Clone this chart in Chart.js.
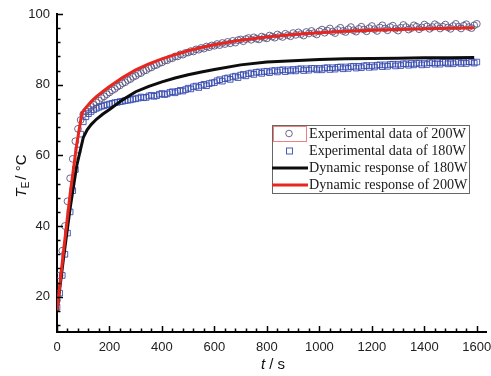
<!DOCTYPE html>
<html>
<head>
<meta charset="utf-8">
<script src="https://cdn.jsdelivr.net/npm/chart.js@4"></script>
<style>
  html, body { margin: 0; padding: 0; background: #fff; }
  #wrap { position: relative; width: 491px; height: 376px; }
</style>
</head>
<body>
<div id="wrap"><canvas id="chart"></canvas></div>
<script>
// sample times of the measurements (s)
const expTime = [
  0, 10, 20, 30, 40, 50, 60, 70, 80, 90,
  100, 110, 120, 130, 140, 150, 160, 170, 180, 190,
  200, 210, 220, 230, 240, 250, 260, 270, 280, 290,
  300, 310, 320, 330, 340, 350, 360, 370, 380, 390,
  400, 410, 420, 430, 440, 450, 460, 470, 480, 490,
  500, 510, 520, 530, 540, 550, 560, 570, 580, 590,
  600, 610, 620, 630, 640, 650, 660, 670, 680, 690,
  700, 710, 720, 730, 740, 750, 760, 770, 780, 790,
  800, 810, 820, 830, 840, 850, 860, 870, 880, 890,
  900, 910, 920, 930, 940, 950, 960, 970, 980, 990,
  1000, 1010, 1020, 1030, 1040, 1050, 1060, 1070, 1080, 1090,
  1100, 1110, 1120, 1130, 1140, 1150, 1160, 1170, 1180, 1190,
  1200, 1210, 1220, 1230, 1240, 1250, 1260, 1270, 1280, 1290,
  1300, 1310, 1320, 1330, 1340, 1350, 1360, 1370, 1380, 1390,
  1400, 1410, 1420, 1430, 1440, 1450, 1460, 1470, 1480, 1490,
  1500, 1510, 1520, 1530, 1540, 1550, 1560, 1570, 1580, 1590,
  1600];

// measured T_E at 200 W (°C)
const exp200 = [
  19, 26, 33, 40, 47, 53.5, 59, 64, 67.5, 70,
  71.6, 72.4, 73.0, 73.7, 74.3, 75.0, 75.5, 76.2, 76.7, 77.3,
  77.8, 78.4, 78.8, 79.4, 79.8, 80.4, 80.7, 81.3, 81.6, 82.2,
  82.5, 83.1, 83.3, 83.9, 84.1, 84.7, 84.9, 85.4, 85.6, 86.1,
  86.3, 86.8, 86.9, 87.4, 87.5, 88.0, 88.0, 88.6, 88.5, 89.0,
  89.1, 89.5, 89.4, 90.0, 89.9, 90.4, 90.2, 90.8, 90.6, 91.1,
  91.0, 91.5, 91.2, 91.8, 91.5, 92.1, 91.7, 92.4, 91.9, 92.6,
  92.8, 92.3, 92.9, 93.2, 92.7, 93.4, 93.0, 92.8, 93.6, 93.3,
  93.1, 93.9, 93.6, 93.3, 94.2, 93.8, 93.5, 94.4, 94.0, 93.7,
  94.6, 94.1, 94.8, 94.3, 93.9, 94.9, 94.5, 95.2, 94.6, 94.2,
  95.1, 95.6, 94.7, 95.3, 95.9, 95.0, 94.6, 95.5, 96.1, 95.2,
  94.9, 95.7, 96.3, 95.4, 95.0, 95.8, 96.4, 95.6, 95.1, 96.0,
  96.6, 95.7, 95.2, 96.2, 96.8, 95.9, 95.4, 96.3, 96.7, 95.8,
  95.3, 96.1, 96.9, 96.3, 95.6, 96.0, 96.8, 96.4, 95.7, 96.2,
  97.0, 96.5, 95.8, 96.3, 97.1, 96.6, 95.9, 96.4, 97.0, 96.2,
  95.8, 96.6, 97.2, 96.4, 95.9, 96.7, 97.1, 96.3, 96.0, 96.8,
  97.2];

// measured T_E at 180 W (°C)
const exp180 = [
  17, 21, 26, 32, 38, 44, 50, 56, 61.5, 66,
  69.5, 70.9, 71.8, 72.4, 72.9, 73.3, 73.6, 73.9, 74.1, 74.3,
  74.5, 74.7, 74.9, 75.0, 75.2, 75.3, 75.5, 75.6, 75.7, 75.9,
  76.0, 76.2, 76.5, 76.3, 76.4, 76.8, 77.0, 76.7, 76.9, 77.3,
  77.5, 77.2, 77.4, 77.8, 78.0, 77.7, 78.1, 78.4, 78.2, 78.6,
  79.0, 78.8, 79.4, 79.6, 79.2, 79.8, 80.1, 79.7, 80.3, 80.5,
  80.6, 81.1, 81.4, 81.0, 81.7, 81.9, 81.5, 82.2, 82.4, 82.0,
  82.7, 82.9, 82.5, 83.1, 83.3, 82.9, 83.5, 83.6, 83.2, 83.7,
  83.8, 83.4, 83.9, 84.0, 83.6, 84.1, 84.2, 83.7, 84.2, 83.9,
  84.3, 83.9, 84.4, 84.5, 84.0, 84.5, 84.1, 84.6, 84.6, 84.2,
  84.6, 84.2, 84.7, 84.8, 84.3, 84.8, 84.4, 84.9, 85.0, 84.5,
  85.0, 84.6, 85.1, 85.2, 84.7, 85.2, 84.8, 85.3, 85.4, 84.9,
  85.4, 85.0, 85.5, 85.6, 85.1, 85.6, 85.2, 85.7, 85.8, 85.3,
  85.8, 85.4, 85.9, 85.9, 85.5, 86.0, 85.6, 86.0, 86.1, 85.6,
  86.1, 85.7, 86.2, 86.2, 85.8, 86.2, 85.8, 86.3, 86.3, 85.9,
  86.3, 85.9, 86.4, 86.4, 86.0, 86.4, 86.0, 86.5, 86.4, 86.1,
  86.4];

// model curves
const resp200Time = [0, 25, 50, 75, 95, 110, 130, 150, 175, 200, 250, 300, 350, 400, 450, 500,
  550, 600, 700, 800, 900, 1000, 1100, 1200, 1300, 1400, 1500, 1590];
const resp200 = [16, 33, 49, 63, 72, 73.5, 75.2, 76.6, 78.1, 79.5, 82.0, 84.2, 85.9, 87.3, 88.5, 89.6,
  90.5, 91.3, 92.6, 93.5, 94.2, 94.7, 95.1, 95.4, 95.6, 95.8, 96.0, 96.1];
const resp180Time = [0, 25, 50, 75, 100, 115, 130, 150, 175, 200, 250, 300, 350, 400, 450, 500,
  550, 600, 700, 800, 900, 1000, 1100, 1200, 1300, 1400, 1500, 1590];
const resp180 = [16, 31, 45, 57, 65, 67.2, 68.7, 70.2, 71.7, 73.0, 75.7, 78.0, 79.5, 80.8, 81.9, 82.8,
  83.6, 84.3, 85.6, 86.4, 86.8, 87.1, 87.3, 87.4, 87.5, 87.6, 87.6, 87.7];

const xTicks = [0, 200, 400, 600, 800, 1000, 1200, 1400, 1600];
const yTicks = [20, 40, 60, 80, 100];
const legendLabels = ['Experimental data of 200W', 'Experimental data of 180W',
  'Dynamic response of 180W', 'Dynamic response of 200W'];

const CIRCLE = 'rgba(90, 85, 130, 0.9)';
const SQUARE = 'rgba(55, 75, 175, 0.9)';
const RED = '#e8261e';
const BLACK = '#0d0d0d';

function pairs(xs, ys) {
  return xs.map((x, i) => ({ x: x, y: ys[i] }));
}

// inward tick marks, axis titles and the boxed legend
const decorations = {
  id: 'decorations',
  afterDraw(chart) {
    const ctx = chart.ctx;
    const x = chart.scales.x;
    const y = chart.scales.y;
    const area = chart.chartArea;
    ctx.save();
    ctx.strokeStyle = '#000';
    ctx.lineWidth = 1.5;
    ctx.beginPath();
    for (let v = 0; v <= x.max; v += 40) {
      const px = Math.round(x.getPixelForValue(v)) + 0.5;
      const len = v % 200 === 0 ? 6 : 3.5;
      ctx.moveTo(px, area.bottom);
      ctx.lineTo(px, area.bottom - len);
    }
    for (let v = 12; v <= y.max; v += 4) {
      const py = Math.round(y.getPixelForValue(v)) + 0.5;
      const len = v % 20 === 0 ? 6 : 3.5;
      ctx.moveTo(area.left, py);
      ctx.lineTo(area.left + len, py);
    }
    ctx.stroke();

    // y title: T_E / °C
    ctx.fillStyle = '#111';
    ctx.textBaseline = 'alphabetic';
    ctx.translate(26, 176);
    ctx.rotate(-Math.PI / 2);
    const big = '15px "Liberation Sans", Arial, sans-serif';
    const bigIt = 'italic 15px "Liberation Sans", Arial, sans-serif';
    const small = '10px "Liberation Sans", Arial, sans-serif';
    ctx.font = bigIt; const wT = ctx.measureText('T').width;
    ctx.font = small; const wE = ctx.measureText('E').width;
    ctx.font = big; const wR = ctx.measureText('/ °C').width;
    let cx = -(wT + wE + 2 + wR) / 2;
    ctx.font = bigIt; ctx.fillText('T', cx, 0); cx += wT;
    ctx.font = small; ctx.fillText('E', cx, 3); cx += wE + 2;
    ctx.font = big; ctx.fillText('/ °C', cx, 0);
    ctx.setTransform(1, 0, 0, 1, 0, 0);

    // x title: t / s
    ctx.font = bigIt; const wt = ctx.measureText('t').width;
    ctx.font = big; const ws = ctx.measureText(' / s').width;
    const tx = 273 - (wt + ws) / 2;
    ctx.font = bigIt; ctx.fillText('t', tx, 369);
    ctx.font = big; ctx.fillText(' / s', tx + wt, 369);

    // legend
    const lx = 272, ly = 125, lw = 197, lh = 68;
    ctx.fillStyle = '#fff';
    ctx.fillRect(lx, ly, lw, lh);
    ctx.strokeStyle = '#666';
    ctx.lineWidth = 1;
    ctx.strokeRect(lx + 0.5, ly + 0.5, lw, lh);
    ctx.strokeStyle = '#f08080';
    ctx.strokeRect(lx + 1.5, ly + 1.5, 33, 15);

    const rows = [133.5, 151, 168, 185];
    ctx.font = '100px "Liberation Serif", "Times New Roman", serif';
    const fs = 100 * 157 / ctx.measureText(legendLabels[0]).width;
    ctx.font = fs.toFixed(2) + 'px "Liberation Serif", "Times New Roman", serif';
    ctx.fillStyle = '#1a1a1a';
    ctx.textBaseline = 'middle';
    legendLabels.forEach((lab, i) => ctx.fillText(lab, 309, rows[i] + 0.5));

    ctx.lineWidth = 1;
    ctx.strokeStyle = CIRCLE;
    ctx.beginPath();
    ctx.arc(289, rows[0], 3.3, 0, Math.PI * 2);
    ctx.stroke();
    ctx.strokeStyle = SQUARE;
    ctx.strokeRect(286.5, rows[1] - 3, 6, 6);
    ctx.lineWidth = 3;
    ctx.strokeStyle = BLACK;
    ctx.beginPath(); ctx.moveTo(272, rows[2]); ctx.lineTo(308, rows[2]); ctx.stroke();
    ctx.strokeStyle = RED;
    ctx.beginPath(); ctx.moveTo(272, rows[3]); ctx.lineTo(308, rows[3]); ctx.stroke();
    ctx.restore();
  }
};

const tickFont = { family: '"Liberation Sans", Arial, sans-serif', size: 13 };

new Chart(document.getElementById('chart'), {
  type: 'scatter',
  data: {
    datasets: [
      {
        label: legendLabels[3],
        data: pairs(resp200Time, resp200),
        showLine: true,
        borderColor: RED,
        borderWidth: 3,
        pointRadius: 0,
        tension: 0,
        order: 0,
      },
      {
        label: legendLabels[2],
        data: pairs(resp180Time, resp180),
        showLine: true,
        borderColor: BLACK,
        borderWidth: 3,
        pointRadius: 0,
        tension: 0,
        order: 1,
      },
      {
        label: legendLabels[0],
        data: pairs(expTime, exp200),
        pointStyle: 'circle',
        pointRadius: 3.4,
        borderWidth: 1,
        borderColor: CIRCLE,
        backgroundColor: 'rgba(0,0,0,0)',
        order: 2,
      },
      {
        label: legendLabels[1],
        data: pairs(expTime, exp180),
        pointStyle: 'rect',
        pointRadius: 4,
        borderWidth: 1,
        borderColor: SQUARE,
        backgroundColor: 'rgba(0,0,0,0)',
        order: 3,
      },
    ],
  },
  options: {
    responsive: true,
    maintainAspectRatio: false,
    animation: false,
    events: [],
    layout: { padding: { top: 14, right: 0, left: 0, bottom: 0 } },
    plugins: {
      legend: { display: false },
      tooltip: { enabled: false },
    },
    scales: {
      x: {
        type: 'linear',
        min: 0,
        max: 1635,
        afterBuildTicks: (s) => { s.ticks = xTicks.map(v => ({ value: v })); },
        afterFit: (s) => { s.height = 44; s.paddingLeft = 0; s.paddingRight = 0; },
        grid: { display: false, drawTicks: false },
        border: { display: true, color: '#000', width: 2 },
        ticks: {
          color: '#222', font: tickFont, padding: 8, maxRotation: 0, autoSkip: false,
          callback: (v) => String(v),
        },
      },
      y: {
        type: 'linear',
        min: 10,
        max: 100,
        afterBuildTicks: (s) => { s.ticks = yTicks.map(v => ({ value: v })); },
        afterFit: (s) => { s.width = 57; s.paddingTop = 0; s.paddingBottom = 0; },
        grid: { display: false, drawTicks: false },
        border: { display: true, color: '#000', width: 2 },
        ticks: { color: '#222', font: tickFont, padding: 7, callback: (v) => String(v) },
      },
    },
  },
  plugins: [decorations],
});
</script>
</body>
</html>
